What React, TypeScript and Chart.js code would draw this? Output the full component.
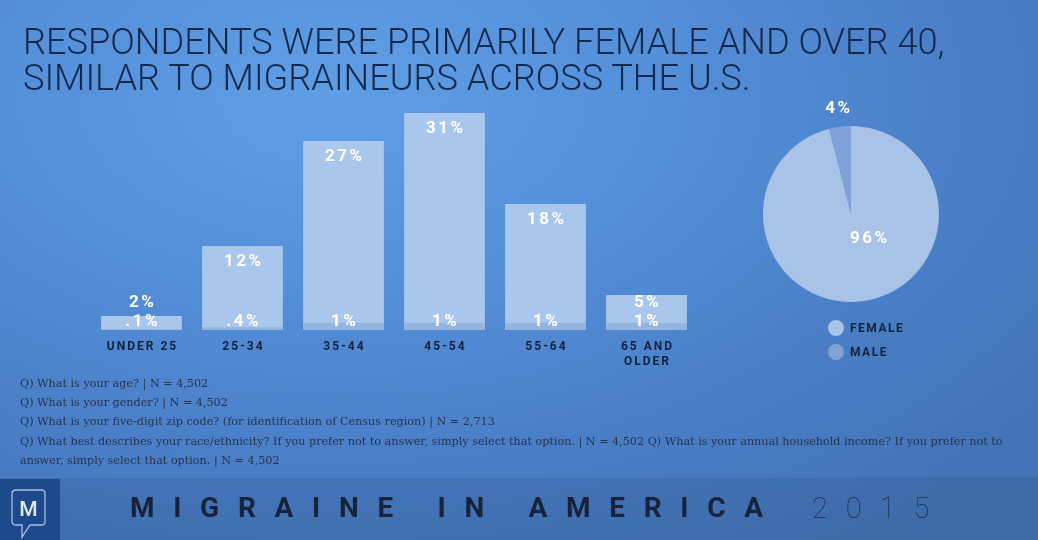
import React, { useEffect, useRef } from "react";
import { Chart, registerables } from "chart.js";

Chart.register(...registerables);

const ageCategories: string[][] = [["UNDER 25"], ["25-34"], ["35-44"], ["45-54"], ["55-64"], ["65 AND", "OLDER"]];
const respondentPct: number[] = [2, 12, 27, 31, 18, 5];
const respondentLabels: string[] = ["2%", "12%", "27%", "31%", "18%", "5%"];
const lowerPct: number[] = [0.1, 0.4, 1, 1, 1, 1];
const lowerLabels: string[] = [".1%", ".4%", "1%", "1%", "1%", "1%"];

const genderLabels: string[] = ["FEMALE", "MALE"];
const genderPct: number[] = [96, 4];
const genderPctLabels: string[] = ["96%", "4%"];

const footnotes: string[] = [
  "Q) What is your age? | N = 4,502",
  "Q) What is your gender? | N = 4,502",
  "Q) What is your five-digit zip code? (for identification of Census region) | N = 2,713",
  "Q) What best describes your race/ethnicity? If you prefer not to answer, simply select that option. | N = 4,502 Q) What is your annual household income? If you prefer not to",
  "answer, simply select that option. | N = 4,502",
];

const NAVY = "#12233f";
const BAR_TOP = "#a9c6ec";
const BAR_LOW = "#94b4e0";
const FEMALE_C = "#a9c3e8";
const MALE_C = "#7fa3d9";

function spacedText(ctx: CanvasRenderingContext2D, text: string, x: number, y: number, ls: number) {
  (ctx as any).letterSpacing = ls + "px";
  ctx.fillText(text, x + (ctx.textAlign === "center" ? ls / 2 : 0), y);
  (ctx as any).letterSpacing = "0px";
}

const barLabelPlugin = {
  id: "barLabels",
  afterDatasetsDraw(chart: any) {
    const ctx: CanvasRenderingContext2D = chart.ctx;
    const top = chart.getDatasetMeta(0);
    ctx.save();
    ctx.textAlign = "center";
    ctx.textBaseline = "middle";
    top.data.forEach((el: any, i: number) => {
      const base = el.base;
      ctx.fillStyle = "#ffffff";
      ctx.font = "bold 17px Roboto, 'DejaVu Sans', sans-serif";
      const ty = Math.min(el.y + 16, base - 27);
      spacedText(ctx, respondentLabels[i], el.x, ty, 2.5);
      spacedText(ctx, lowerLabels[i], el.x, base - 8, 2.5);
      ctx.fillStyle = NAVY;
      ctx.font = "bold 12px Roboto, 'DejaVu Sans', sans-serif";
      ageCategories[i].forEach((line, j) => {
        spacedText(ctx, line, el.x, base + 17 + j * 15, 2);
      });
    });
    ctx.restore();
  },
};

const pieLabelPlugin = {
  id: "pieLabels",
  afterDatasetsDraw(chart: any) {
    const ctx: CanvasRenderingContext2D = chart.ctx;
    const meta = chart.getDatasetMeta(0);
    const arc = meta.data[0];
    const cx = arc.x;
    const cy = arc.y;
    const r = arc.outerRadius;
    ctx.save();
    ctx.textAlign = "center";
    ctx.textBaseline = "middle";
    ctx.fillStyle = "#ffffff";
    ctx.font = "bold 17px Roboto, 'DejaVu Sans', sans-serif";
    spacedText(ctx, genderPctLabels[0], cx + r * 0.2, cy + r * 0.28, 2.5);
    const m = meta.data[1];
    const mid = (m.startAngle + m.endAngle) / 2;
    spacedText(ctx, genderPctLabels[1], cx + Math.cos(mid) * (r + 18), cy + Math.sin(mid) * (r + 18), 2.5);
    const colors = [FEMALE_C, MALE_C];
    ctx.textAlign = "left";
    genderLabels.forEach((lab, i) => {
      const ly = cy + r + 26 + i * 24;
      ctx.beginPath();
      ctx.fillStyle = colors[i];
      ctx.arc(cx - 15, ly, 8, 0, Math.PI * 2);
      ctx.fill();
      ctx.fillStyle = NAVY;
      ctx.font = "bold 12px Roboto, 'DejaVu Sans', sans-serif";
      spacedText(ctx, lab, cx - 1, ly + 1, 1.5);
    });
    ctx.restore();
  },
};

function BarChart() {
  const ref = useRef<HTMLCanvasElement>(null);
  useEffect(() => {
    if (!ref.current) return;
    const chart = new Chart(ref.current, {
      type: "bar",
      data: {
        labels: ageCategories.map((c) => c.join(" ")),
        datasets: [
          { data: respondentPct, backgroundColor: BAR_TOP, order: 1, grouped: false, barPercentage: 0.8, categoryPercentage: 1 } as any,
          { data: lowerPct, backgroundColor: BAR_LOW, order: 0, grouped: false, barPercentage: 0.8, categoryPercentage: 1 } as any,
        ],
      },
      options: {
        animation: false,
        responsive: false,
        maintainAspectRatio: false,
        layout: { padding: { left: 91, right: 23, top: 113, bottom: 45 } },
        plugins: { legend: { display: false }, tooltip: { enabled: false } },
        scales: {
          x: { display: false },
          y: { display: false, min: 0, max: 31 },
        },
      },
      plugins: [barLabelPlugin],
    });
    return () => chart.destroy();
  }, []);
  return <canvas ref={ref} width={720} height={375} style={{ position: "absolute", left: 0, top: 0, width: 720, height: 375 }} />;
}

function PieChart() {
  const ref = useRef<HTMLCanvasElement>(null);
  useEffect(() => {
    if (!ref.current) return;
    const chart = new Chart(ref.current, {
      type: "pie",
      data: {
        labels: genderLabels,
        datasets: [{ data: genderPct, backgroundColor: [FEMALE_C, MALE_C], borderWidth: 0 }],
      },
      options: {
        animation: false,
        responsive: false,
        maintainAspectRatio: false,
        layout: { padding: { left: 23, right: 31, top: 36, bottom: 78 } },
        plugins: { legend: { display: false }, tooltip: { enabled: false } },
      },
      plugins: [pieLabelPlugin],
    });
    return () => chart.destroy();
  }, []);
  return <canvas ref={ref} width={230} height={290} style={{ position: "absolute", left: 740, top: 90, width: 230, height: 290 }} />;
}

export default function App() {
  return (
    <div
      style={{
        position: "fixed",
        left: 0,
        top: 0,
        width: 1038,
        height: 540,
        overflow: "hidden",
        background: "radial-gradient(ellipse 900px 520px at 32% 18%, #5f9ee5 0%, #5590da 35%, #4a7fc7 70%, #4373b6 100%)",
      }}
    >
      <div
        style={{
          position: "absolute",
          left: 23,
          top: 24,
          fontFamily: "Roboto, 'DejaVu Sans', sans-serif",
          fontWeight: 300,
          fontSize: 36,
          lineHeight: "36px",
          color: "#132a4e",
          whiteSpace: "nowrap",
          transform: "scaleX(1.005)",
          transformOrigin: "left top",
        }}
      >
        RESPONDENTS WERE PRIMARILY FEMALE AND OVER 40,
        <br />
        SIMILAR TO MIGRAINEURS ACROSS THE U.S.
      </div>
      <BarChart />
      <PieChart />
      <div
        style={{
          position: "absolute",
          left: 20,
          top: 374,
          fontFamily: "'DejaVu Serif', 'Liberation Serif', serif",
          fontSize: 11.2,
          lineHeight: "19.2px",
          color: "#26344f",
          whiteSpace: "nowrap",
        }}
      >
        {footnotes.map((f, i) => (
          <div key={i}>{f}</div>
        ))}
      </div>
      <div style={{ position: "absolute", left: 0, top: 478, width: 1038, height: 62, background: "rgba(45,80,130,0.2)" }} />
      <div style={{ position: "absolute", left: 0, top: 479, width: 60, height: 61, background: "#1d4a8c" }}>
        <svg width={60} height={61} viewBox="0 0 60 61">
          <path
            d="M16 11 H42 Q45 11 45 15 V42 Q45 46 42 46 H30 L22 58 V46 H16 Q12 46 12 42 V15 Q12 11 16 11 Z"
            fill="none"
            stroke="#a9bedf"
            strokeWidth={1.3}
          />
          <text x={28.5} y={37} textAnchor="middle" fontFamily="Roboto, sans-serif" fontWeight={500} fontSize={21} fill="#dfe8f5">
            M
          </text>
        </svg>
      </div>
      <div
        style={{
          position: "absolute",
          left: 130,
          top: 492,
          fontFamily: "Roboto, 'DejaVu Sans', sans-serif",
          fontWeight: 700,
          fontSize: 28,
          lineHeight: "32px",
          letterSpacing: "18.7px",
          color: "#16233a",
          whiteSpace: "nowrap",
        }}
      >
        MIGRAINE IN AMERICA
      </div>
      <div
        style={{
          position: "absolute",
          left: 812,
          top: 492,
          fontFamily: "Roboto, 'DejaVu Sans', sans-serif",
          fontWeight: 100,
          fontSize: 29,
          lineHeight: "32px",
          letterSpacing: "18px",
          color: "#1c2d4a",
          whiteSpace: "nowrap",
        }}
      >
        2015
      </div>
    </div>
  );
}
